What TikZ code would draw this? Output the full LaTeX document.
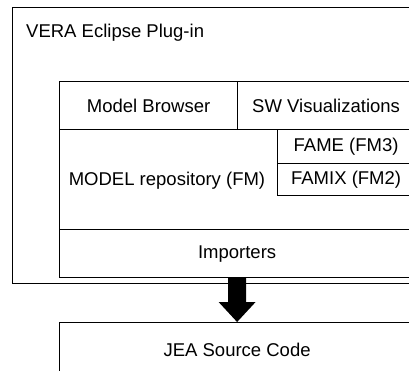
\documentclass[tikz,border=0pt]{standalone}
\usepackage{fontspec}
\setmainfont{Liberation Sans}
\usetikzlibrary{calc}
\begin{document}
\begin{tikzpicture}[x=1pt, y=-1pt,
  box/.style={draw, line width=1.2pt, inner sep=0pt, anchor=north west},
  txt/.style={inner sep=0pt, font=\fontsize{18.5}{21}\selectfont}]
  \useasboundingbox (0,0) rectangle (409,370);
  \clip (0,0) rectangle (409,370);
  % plug-in frame
  \node[box, minimum width=402pt, minimum height=276pt] (outer) at (12,7) {};
  \node[txt, anchor=west] (vera) at (26,33) {VERA Eclipse Plug-in};
  % top row
  \node[box, minimum width=178pt, minimum height=48pt, txt] (mb) at (59,81) {Model Browser};
  \node[box, minimum width=177pt, minimum height=48pt, txt] (sw) at (237,81) {SW Visualizations};
  % repository with meta-models
  \node[box, minimum width=355pt, minimum height=100pt] (repo) at (59,129) {};
  \node[txt] (repotext) at (167,181) {MODEL repository (FM)};
  \node[box, minimum width=137pt, minimum height=34pt, txt] (fame) at (277,129) {FAME (FM3)};
  \node[box, minimum width=137pt, minimum height=32pt, txt] (famix) at (277,163) {FAMIX (FM2)};
  % importers
  \node[box, minimum width=355pt, minimum height=48pt, txt] (imp) at (59,229) {Importers};
  % source code
  \node[box, minimum width=355pt, minimum height=54pt, txt] (jea) at (59,322) {JEA Source Code};
  % block arrow from importers down to the source code
  \fill ($(imp.south)+(-9,0)$) -- ($(imp.south)+(9,0)$)
    -- ($(jea.north)+(9,-20)$) -- ($(jea.north)+(18.5,-20)$)
    -- (jea.north) -- ($(jea.north)+(-18.5,-20)$)
    -- ($(jea.north)+(-9,-20)$) -- cycle;
\end{tikzpicture}
\end{document}
